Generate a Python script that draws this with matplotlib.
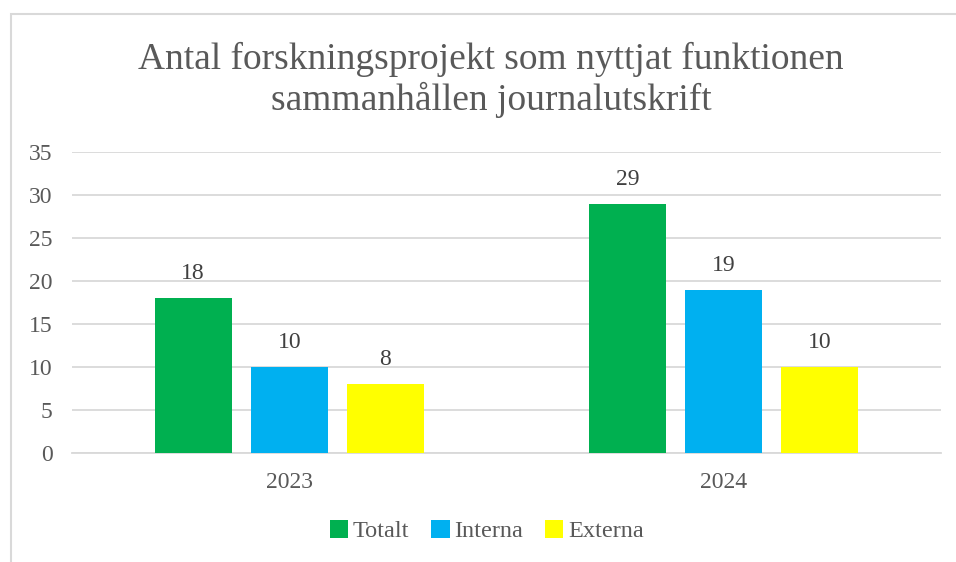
import numpy as np
import matplotlib
matplotlib.use("Agg")
import matplotlib.pyplot as plt
from matplotlib.patches import Rectangle

# Data
years = ["2023", "2024"]
series_names = ["Totalt", "Interna", "Externa"]
totalt = [18, 29]
interna = [10, 19]
externa = [8, 10]
colors = ["#00B050", "#00B0F0", "#FFFF00"]

plt.rcParams["font.family"] = ["Liberation Serif", "DejaVu Serif"]

fig = plt.figure(figsize=(9.56, 5.62), dpi=100)
ax = fig.add_axes([72 / 956, 1 - 453 / 562, (941 - 72) / 956, (453 - 152) / 562])

# chart border (light gray, cut off at right/bottom like the reference)
fig.patches.append(Rectangle((10.5 / 956, -0.1), 1.2, 1 - 13.5 / 562 + 0.1,
                             transform=fig.transFigure, fill=False,
                             edgecolor="#d9d9d9", linewidth=1.5, zorder=0))

x = np.arange(len(years))
width = 0.177
step = 0.221
for i, (vals, name) in enumerate(zip([totalt, interna, externa], series_names)):
    bars = ax.bar(x + (i - 1) * step, vals, width, color=colors[i], label=name, zorder=3)
    for b, v in zip(bars, vals):
        ax.annotate(str(v), (b.get_x() + b.get_width() / 2, v), xytext=(0, 10),
                    textcoords="offset points", ha="center", va="bottom",
                    fontsize=17, color="#404040")

ax.set_xlim(-0.5, 1.5)
ax.set_ylim(0, 35)
ax.set_yticks(range(0, 36, 5))
ax.set_xticks(x)
ax.set_xticklabels(years)
ax.yaxis.grid(True, color="#d9d9d9", linewidth=1.3, zorder=0)
ax.set_axisbelow(True)
for s in ["top", "right", "left"]:
    ax.spines[s].set_visible(False)
ax.spines["bottom"].set_color("#d9d9d9")
ax.spines["bottom"].set_linewidth(1.3)
ax.tick_params(axis="both", length=0, labelsize=17, colors="#595959")
ax.tick_params(axis="y", pad=14)
ax.tick_params(axis="x", pad=14)

fig.text(491 / 956, 1 - 80 / 562, "Antal forskningsprojekt som nyttjat funktionen\nsammanhållen journalutskrift",
         ha="center", va="center", fontsize=27, color="#595959", linespacing=1.2)

fig.legend(loc="center", bbox_to_anchor=(487 / 956, 1 - 531 / 562), ncol=3, frameon=False,
           fontsize=17.5, handlelength=0.75, handleheight=0.75, handletextpad=0.2,
           columnspacing=0.9, labelcolor="#595959")

fig.savefig("out.png", dpi=100)
